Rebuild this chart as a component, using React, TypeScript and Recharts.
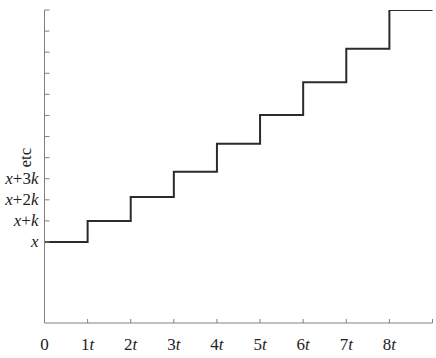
import { LineChart, Line, XAxis, YAxis } from 'recharts'

// step times (in units of t) and level (in units of k above x)
const times = [0, 1, 2, 3, 4, 5, 6, 7, 8, 9]
const levels = [0, 1, 2.13, 3.33, 4.66, 6.02, 7.57, 9.16, 11.0, 11.0]

const xTicks = [0, 1, 2, 3, 4, 5, 6, 7, 8, 9]
const xLabels = ['0', '1', '2', '3', '4', '5', '6', '7', '8', '']
const yTicks = [0, 1, 2, 3, 4, 5, 6, 7, 8, 9, 10, 11]
const yLabels = ['x', 'x+k', 'x+2k', 'x+3k', 'etc']

const data = times.map((t, i) => ({ t, v: levels[i] }))

const AXIS = '#808080'
const FONT = '"Liberation Serif", "Times New Roman", serif'

function XTick({ x, y, payload, index }: any) {
  const label = xLabels[index] ?? ''
  return (
    <g>
      {payload.value > 0 && <line x1={x} x2={x} y1={y} y2={y - 4} stroke={AXIS} />}
      {label !== '' && (
        <text x={x} y={y + 27} textAnchor="middle" fontFamily={FONT} fontSize={17} fill="#222">
          {label}
          {label !== '0' && <tspan fontStyle="italic">t</tspan>}
        </text>
      )}
    </g>
  )
}

function YTick({ x, y, index }: any) {
  const label = yLabels[index]
  let text = null
  if (label === 'etc') {
    text = (
      <text
        x={x - 13}
        y={y}
        transform={`rotate(-90 ${x - 13} ${y})`}
        textAnchor="middle"
        fontFamily={FONT}
        fontSize={17}
        fill="#222"
      >
        etc
      </text>
    )
  } else if (label) {
    const m = label.match(/^x(\+)?(\d)?(k)?$/)
    text = (
      <text x={x - 6} y={y + 5} textAnchor="end" fontFamily={FONT} fontSize={17} fill="#222">
        <tspan fontStyle="italic">x</tspan>
        {m && m[1] && <tspan>+{m[2] ?? ''}</tspan>}
        {m && m[3] && <tspan fontStyle="italic">k</tspan>}
      </text>
    )
  }
  return (
    <g>
      <line x1={x} x2={x + 5} y1={y} y2={y} stroke={AXIS} />
      {text}
    </g>
  )
}

export default function App() {
  return (
    <div style={{ position: 'absolute', left: 0, top: 0, background: '#fff' }}>
      <LineChart width={436} height={358} data={data} margin={{ top: 10, right: 3.5, bottom: 0, left: 0 }}>
        <XAxis
          dataKey="t"
          type="number"
          domain={[0, 9]}
          ticks={xTicks}
          interval={0}
          height={35}
          stroke={AXIS}
          tickLine={false}
          tickSize={0}
          tickMargin={0}
          tick={<XTick />}
        />
        <YAxis
          type="number"
          domain={[-3.84, 11]}
          ticks={yTicks}
          interval={0}
          width={44.5}
          stroke={AXIS}
          tickLine={false}
          tickSize={0}
          tickMargin={0}
          allowDataOverflow
          tick={<YTick />}
        />
        <Line
          type="stepAfter"
          dataKey="v"
          stroke="#2b2b2b"
          strokeWidth={2}
          dot={false}
          isAnimationActive={false}
        />
      </LineChart>
    </div>
  )
}
